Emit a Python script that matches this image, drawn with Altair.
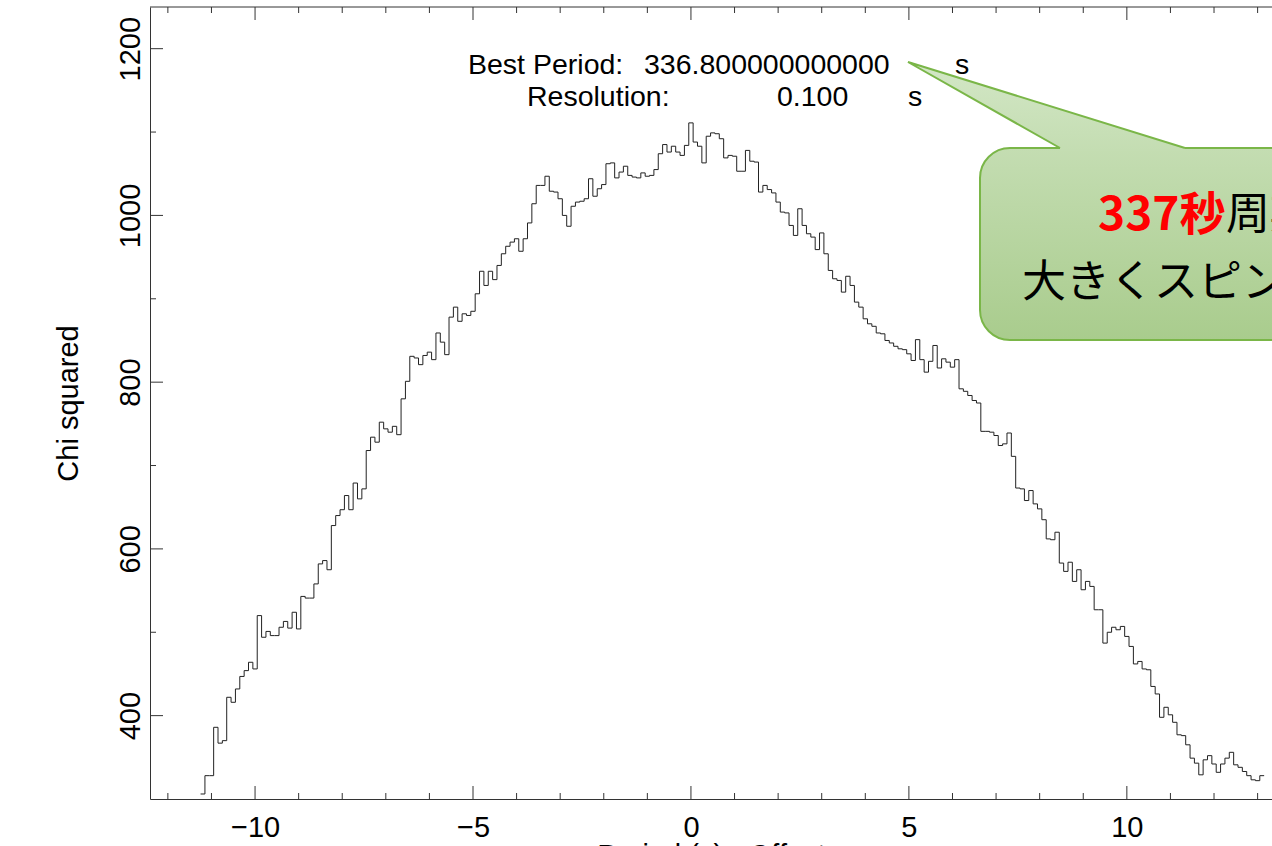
import altair as alt
import pandas as pd

# ---------------- data ----------------
start_edge = -11.25          # left edge of first 0.1 s bin
bin_width = 0.1
chi_sq = [
    306, 328, 328, 386, 367, 370, 422, 416, 432, 447,
    454, 464, 456, 520, 494, 501, 496, 496, 506, 513,
    505, 524, 504, 543, 541, 541, 558, 582, 586, 575,
    628, 640, 647, 664, 647, 679, 660, 672, 718, 734,
    728, 752, 744, 740, 747, 737, 780, 801, 831, 829,
    821, 832, 836, 827, 859, 848, 833, 878, 890, 873,
    882, 880, 885, 906, 933, 916, 933, 923, 940, 954,
    963, 968, 972, 957, 972, 991, 1014, 1036, 1036, 1047,
    1029, 1028, 1020, 1000, 987, 1011, 1016, 1017, 1020, 1044,
    1023, 1032, 1037, 1062, 1063, 1045, 1052, 1059, 1048, 1046,
    1045, 1051, 1047, 1048, 1055, 1074, 1085, 1076, 1083, 1076,
    1072, 1084, 1111, 1088, 1083, 1063, 1095, 1099, 1098, 1092,
    1069, 1072, 1071, 1053, 1053, 1078, 1065, 1064, 1028, 1036,
    1031, 1027, 1016, 1004, 1003, 988, 976, 1008, 988, 978,
    974, 959, 979, 954, 934, 924, 922, 908, 927, 916,
    896, 890, 876, 870, 867, 859, 858, 850, 847, 843,
    840, 839, 834, 826, 851, 827, 812, 825, 844, 817,
    828, 824, 818, 827, 792, 789, 784, 778, 775, 741,
    741, 740, 736, 724, 726, 739, 711, 673, 672, 658,
    670, 654, 648, 635, 612, 611, 620, 583, 573, 584,
    561, 575, 551, 561, 555, 527, 527, 487, 500, 506,
    503, 507, 495, 483, 462, 465, 456, 455, 435, 426,
    398, 410, 401, 392, 377, 376, 365, 349, 343, 329,
    347, 352, 342, 332, 342, 349, 356, 341, 338, 333,
    328, 323, 322, 328,
]
x_label_values = [-10, -5, 0, 5, 10]
x_minor_values = [-12, -11, -9, -8, -7, -6, -4, -3, -2, -1, 1, 2, 3, 4, 6, 7, 8, 9, 11, 12, 13]
y_label_values = [400, 600, 800, 1000, 1200]
y_minor_values = [500, 700, 900, 1100]

x_domain = [-12.41, 13.33]
y_domain = [300, 1250]

# ---------------- layout ----------------
W, H = 1122, 792
PAD = {"left": 150, "top": 7, "right": 0, "bottom": 47}
FONT = "Liberation Sans, Arial, Helvetica, sans-serif"
JFONT = "Noto Sans CJK JP"
AX = "#333333"

edges = [round(start_edge + bin_width * i, 2) for i in range(len(chi_sq) + 1)]
vals = chi_sq + [chi_sq[-1]]
df = pd.DataFrame({"offset": edges, "chi": vals})

xs = alt.Scale(domain=x_domain, nice=False, zero=False)
ys = alt.Scale(domain=y_domain, nice=False, zero=False)

x_axis = alt.Axis(
    values=x_label_values, ticks=False, grid=False, domain=True, domainColor=AX, domainWidth=1,
    labelFont=FONT, labelFontSize=29, labelColor="black", labelPadding=14,
    title="Period (s) - Offset", titleFont=FONT, titleFontSize=29, titleFontWeight="normal",
    titleColor="black", titleY=42, titleBaseline="top")
y_axis = alt.Axis(
    values=y_label_values, format="d", ticks=False, grid=False, domain=True, domainColor=AX,
    domainWidth=1, labelFont=FONT, labelFontSize=29, labelColor="black", labelAngle=270,
    labelAlign="center", labelBaseline="alphabetic", labelPadding=11,
    title="Chi squared", titleFont=FONT, titleFontSize=29, titleFontWeight="normal",
    titleColor="black", titleAngle=270, titleAlign="center", titleBaseline="alphabetic",
    titleX=-73, titleY=H / 2)

line = alt.Chart(df).mark_line(interpolate="step-after", color="#222222", strokeWidth=1).encode(
    x=alt.X("offset:Q", scale=xs, axis=x_axis),
    y=alt.Y("chi:Q", scale=ys, axis=y_axis),
)

xmaj = pd.DataFrame({"offset": x_label_values})
xmin = pd.DataFrame({"offset": x_minor_values})
ymaj = pd.DataFrame({"chi": y_label_values})
ymin = pd.DataFrame({"chi": y_minor_values})


def xticks(d, y0, y1):
    return alt.Chart(d).mark_rule(color=AX, strokeWidth=1).encode(
        x=alt.X("offset:Q", scale=xs, axis=x_axis), y=alt.value(y0), y2=alt.value(y1))


def yticks(d, length):
    return alt.Chart(d).mark_rule(color=AX, strokeWidth=1).encode(
        y=alt.Y("chi:Q", scale=ys, axis=y_axis), x=alt.value(0), x2=alt.value(length))


one = pd.DataFrame({"a": [0]})
top_border = alt.Chart(one).mark_rule(color=AX, strokeWidth=1).encode(
    x=alt.value(0), x2=alt.value(W), y=alt.value(0))


def label(text, x, y, size=28.5, color="black", font=FONT, weight="normal", baseline="alphabetic"):
    return alt.Chart(pd.DataFrame({"txt": [text]})).mark_text(
        align="left", baseline=baseline, font=font, fontSize=size, fontWeight=weight, color=color
    ).encode(text="txt:N", x=alt.value(x - PAD["left"]), y=alt.value(y - PAD["top"]))


annot = [
    label("Best Period:", 468, 74),
    label("336.800000000000", 644, 74),
    label("s", 955, 74),
    label("Resolution:", 527, 106),
    label("0.100", 777, 106),
    label("s", 908, 106),
]

box_grad = {"gradient": "linear", "x1": 0, "y1": 0, "x2": 0, "y2": 1,
            "stops": [{"offset": 0, "color": "#c4ddb2"}, {"offset": 1, "color": "#a9cc8d"}]}
tail_grad = {"gradient": "linear", "x1": 0, "y1": 0, "x2": 0, "y2": 1,
             "stops": [{"offset": 0, "color": "#d3e7c6"}, {"offset": 1, "color": "#c4ddb2"}]}

box = alt.Chart(one).mark_rect(cornerRadius=30, fill=box_grad, stroke="#7ab648", strokeWidth=2).encode(
    x=alt.value(980 - PAD["left"]), x2=alt.value(1450 - PAD["left"]),
    y=alt.value(148 - PAD["top"]), y2=alt.value(340 - PAD["top"]))

# tail: apex at (908, 62), base on the box top between x=1060 and x=1185
tail_fill = alt.Chart(one).mark_point(
    shape="M0,0 L152,86 L152,89 L277,89 L277,86 Z", size=4, filled=True, fill=tail_grad,
    opacity=1, strokeWidth=0
).encode(x=alt.value(908 - PAD["left"]), y=alt.value(62 - PAD["top"]))
tail_edge = alt.Chart(one).mark_point(
    shape="M152,86 L0,0 L277,86", size=4, filled=False, stroke="#7ab648", strokeWidth=2,
    opacity=1, fillOpacity=0
).encode(x=alt.value(908 - PAD["left"]), y=alt.value(62 - PAD["top"]))

callout_text = [
    label("337秒", 1098, 216, size=46, color="#ff0000", font=JFONT, weight="bold", baseline="middle"),
    label("周期で", 1226, 216, size=44, font=JFONT, baseline="middle"),
    label("大きくスピンしている", 1022, 284, size=44, font=JFONT, baseline="middle"),
]

chart = alt.layer(
    line,
    xticks(xmaj, H, H - 13), xticks(xmin, H, H - 6),
    xticks(xmaj, 0, 13), xticks(xmin, 0, 6),
    yticks(ymaj, 13), yticks(ymin, 6),
    top_border,
    *annot,
    box, tail_fill, tail_edge,
    *callout_text,
).properties(
    width=W, height=H, padding=PAD,
    autosize=alt.AutoSizeParams(type="none"),
    background="white",
).configure_view(strokeWidth=0)

chart.save("out.html", embed_options={"renderer": "svg", "actions": False})
